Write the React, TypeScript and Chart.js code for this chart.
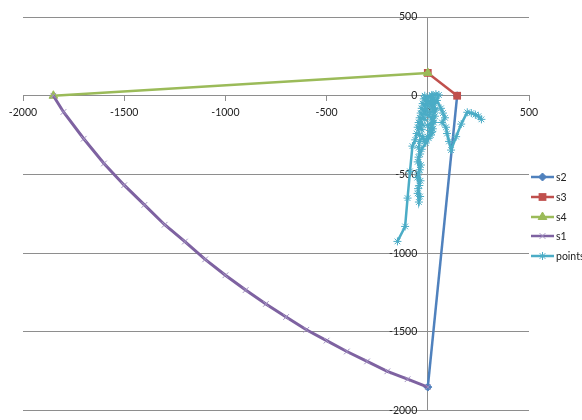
import React, { useEffect, useRef } from 'react';
import { Chart, registerables } from 'chart.js';
import { drawPoint } from 'chart.js/helpers';

Chart.register(...registerables);

const seriesNames = ['s2', 's3', 's4', 's1', 'points'];

const s2X = [145, 0];
const s2Y = [0, -1850];

const s3X = [0, 145];
const s3Y = [145, 0];

const s4X = [-1850, 0];
const s4Y = [0, 145];

const s1X = [-1850, -1800, -1700, -1600, -1500, -1400, -1300, -1200, -1100, -1000, -900, -800, -700, -600, -500, -400, -300, -200, -100, 0];
const s1Y = [0, -103, -273, -430, -568, -693, -819, -926, -1039, -1140, -1234, -1322, -1405, -1486, -1555, -1624, -1687, -1750, -1800, -1850];

const pointsX = [
  -150, -112, -100, -88, -76,
  -62, -55, -40, -50, -30, -45, -25, -40, -15, -35, -10, -30, -5, -25, 0, -20, 5, -15, 10, 20, 15, 30, 20, 35, 25, 38, 20, 35, 15, 30, 10, 25, 0, 15, -15, -25, -40,
  -45, -38, -50, -40, -52, -42, -50, -44, -38, -48, -36, -46, -34, -46,
  -30, -10, 5, 20, 0, 25, 5, 30, 10, 35, 20, 40, 55,
  45, 65, 75, 85, 70, 90, 95, 105, 115, 140, 165, 195, 215, 235, 250, 265,
];
const pointsY = [
  -925, -830, -650, -480, -320,
  -280, -240, -250, -200, -215, -170, -185, -140, -150, -110, -120, -80, -95, -50, -65, -20, -35, 0, -10, 5, -40, -20, -70, -50, -100, -90, -140, -130, -180, -170, -220, -210, -260, -250, -290, -260, -290,
  -330, -370, -420, -470, -520, -570, -620, -675, -640, -590, -540, -490, -440, -390,
  -340, -300, -270, -230, -190, -160, -120, -90, -50, -30, 0, 10, 5,
  -30, -80, -110, -140, -170, -200, -240, -290, -345, -260, -180, -105, -110, -120, -130, -150,
];

const xTicks = [-2000, -1500, -1000, -500, 0, 500];
const yTicks = [500, 0, -500, -1000, -1500, -2000];

const COLORS = ['#4F81BD', '#C0504D', '#9BBB59', '#7E62A1', '#4BACC6'];
const GRID = '#8e8e8e';
const FONT = 'Lato';
const FS = 10.5;

const toPts = (xs: number[], ys: number[]) => xs.map((x, i) => ({ x, y: ys[i] }));

const legendPlugin = {
  id: 'lineLegend',
  afterDraw(chart: any) {
    const ctx = chart.ctx as CanvasRenderingContext2D;
    const ys = [177, 197, 217, 236, 256];
    chart.data.datasets.forEach((ds: any, i: number) => {
      const y = ys[i];
      ctx.save();
      ctx.strokeStyle = ds.borderColor;
      ctx.lineWidth = 2.5;
      ctx.beginPath();
      ctx.moveTo(531, y);
      ctx.lineTo(554, y);
      ctx.stroke();
      ctx.fillStyle = ds.pointBackgroundColor;
      ctx.strokeStyle = ds.pointBorderColor;
      ctx.lineWidth = ds.pointBorderWidth;
      drawPoint(ctx, { pointStyle: ds.pointStyle, rotation: 0, radius: ds.pointRadius, borderWidth: ds.pointBorderWidth } as any, 542.5, y);
      ctx.fillStyle = '#222';
      ctx.font = `${FS}px ${FONT}`;
      ctx.textBaseline = 'middle';
      ctx.textAlign = 'left';
      ctx.fillText(ds.label, 556, y + 0.5);
      ctx.restore();
    });
  },
};

export default function App() {
  const ref = useRef<HTMLCanvasElement | null>(null);
  useEffect(() => {
    if (!ref.current) return;
    const mk = (i: number, data: any[], style: string, radius: number, bw: number, order: number, lw = 2.5, pColor?: string) => ({
      label: seriesNames[i],
      data,
      showLine: true,
      borderColor: COLORS[i],
      backgroundColor: COLORS[i],
      borderWidth: lw,
      pointStyle: style,
      pointRadius: radius,
      pointBorderWidth: bw,
      pointBackgroundColor: pColor || COLORS[i],
      pointBorderColor: pColor || COLORS[i],
      order,
      tension: 0,
      clip: false,
    });
    const chart = new Chart(ref.current, {
      type: 'scatter',
      data: {
        datasets: [
          mk(0, toPts(s2X, s2Y), 'rectRot', 4, 1, 5),
          mk(1, toPts(s3X, s3Y), 'rect', 5.5, 0, 4),
          mk(2, toPts(s4X, s4Y), 'triangle', 5, 1, 3),
          mk(3, toPts(s1X, s1Y), 'crossRot', 4, 1, 2, 3, '#a08fc0'),
          mk(4, toPts(pointsX, pointsY), 'star', 4, 1, 1, 2.5),
        ] as any,
      },
      options: {
        responsive: false,
        animation: false,
        layout: { padding: { left: 23, right: 53, top: 17, bottom: 5 } },
        plugins: { legend: { display: false }, tooltip: { enabled: false } },
        scales: {
          x: {
            type: 'linear',
            position: { y: 0 } as any,
            min: -2000,
            max: 500,
            z: 1,
            afterBuildTicks: (s: any) => { s.ticks = xTicks.map((v) => ({ value: v })); },
            afterFit: (s: any) => { s.height = 0; },
            grid: { drawOnChartArea: false, drawTicks: true, tickLength: 5, color: GRID },
            border: { display: true, color: GRID, width: 1 },
            ticks: { color: '#222', font: { family: FONT, size: FS }, padding: 6, maxRotation: 0, callback: (v: any) => String(v) },
          },
          y: {
            type: 'linear',
            position: { x: 0 } as any,
            min: -2000,
            max: 500,
            afterBuildTicks: (s: any) => { s.ticks = yTicks.map((v) => ({ value: v })); },
            afterFit: (s: any) => { s.width = 0; },
            grid: { drawOnChartArea: true, drawTicks: false, color: GRID },
            border: { display: true, color: GRID, width: 1 },
            ticks: { color: '#222', font: { family: FONT, size: FS }, padding: 3, callback: (v: any) => String(v) + '\u2002\u2002' },
          },
        },
      } as any,
      plugins: [legendPlugin],
    });
    return () => chart.destroy();
  }, []);
  return (
    <div style={{ position: 'absolute', left: 0, top: 0, width: 582, height: 420, background: '#fff' }}>
      <canvas ref={ref} width={582} height={420} style={{ display: 'block' }} />
    </div>
  );
}
